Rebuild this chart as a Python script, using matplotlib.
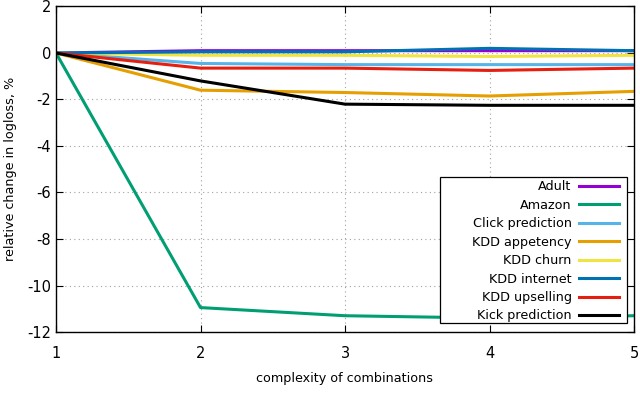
import matplotlib
matplotlib.use('Agg')
import matplotlib.pyplot as plt
from matplotlib.patches import Rectangle

plt.rcParams['axes.unicode_minus'] = False

complexity = [1, 2, 3, 4, 5]

adult = [0, 0.1, 0.1, 0.1, 0.1]
amazon = [0, -10.95, -11.3, -11.4, -11.3]
click_prediction = [0, -0.45, -0.5, -0.5, -0.5]
kdd_appetency = [0, -1.6, -1.7, -1.85, -1.65]
kdd_churn = [0, -0.1, -0.1, -0.15, -0.1]
kdd_internet = [0, 0.05, 0.05, 0.2, 0.1]
kdd_upselling = [0, -0.65, -0.65, -0.75, -0.65]
kick_prediction = [0, -1.2, -2.2, -2.25, -2.25]

series = [
    ('Adult', adult, '#9400d3'),
    ('Amazon', amazon, '#009e73'),
    ('Click prediction', click_prediction, '#56b4e9'),
    ('KDD appetency', kdd_appetency, '#e69f00'),
    ('KDD churn', kdd_churn, '#f0e442'),
    ('KDD internet', kdd_internet, '#0072b2'),
    ('KDD upselling', kdd_upselling, '#e51e10'),
    ('Kick prediction', kick_prediction, '#000000'),
]

W, H = 640, 404
L, R, T, B = 56, 634, 6.5, 332

fig = plt.figure(figsize=(6.4, 4.04), dpi=100)
ax = fig.add_axes([L / W, 1 - B / H, (R - L) / W, (B - T) / H])

for name, vals, col in series:
    ax.plot(complexity, vals, color=col, lw=2.2, label=name)

ax.set_xlim(1, 5)
ax.set_ylim(-12, 2)
ax.set_xticks(complexity)
ax.set_yticks(range(-12, 3, 2))
ax.tick_params(direction='in', top=True, right=True, labelsize=10.5, length=5, width=0.8)
ax.tick_params(axis='x', pad=10)
ax.grid(True, linestyle=(0, (1, 3)), color='#a0a0a0', lw=0.8)
for s in ax.spines.values():
    s.set_linewidth(1.0)

ax.set_xlabel('complexity of combinations', fontsize=9.2, labelpad=8)
ax.set_ylabel('relative change in logloss, %', fontsize=9.2)
ax.yaxis.set_label_coords(-(L - 17) / (R - L), 0.5)

# legend box in gnuplot style (wider than its contents)
def px_to_ax(x, y):
    return (x - L) / (R - L), (B - y) / (B - T)

x0, y0 = px_to_ax(440, 323)
x1, y1 = px_to_ax(627, 177)
ax.add_patch(Rectangle((x0, y0), x1 - x0, y1 - y0, transform=ax.transAxes,
                       facecolor='white', edgecolor='black', lw=0.9, zorder=5))

ax_x, ax_y = px_to_ax(619, 322.5)
leg = ax.legend(loc='lower right', bbox_to_anchor=(ax_x, ax_y), markerfirst=False,
                fontsize=9.2, frameon=False, handlelength=3.1, handletextpad=0.6,
                labelspacing=0.43, borderpad=0, borderaxespad=0)
leg.set_zorder(6)
for t in leg.get_texts():
    t.set_ha('right')

fig.savefig('out.png', dpi=100)
